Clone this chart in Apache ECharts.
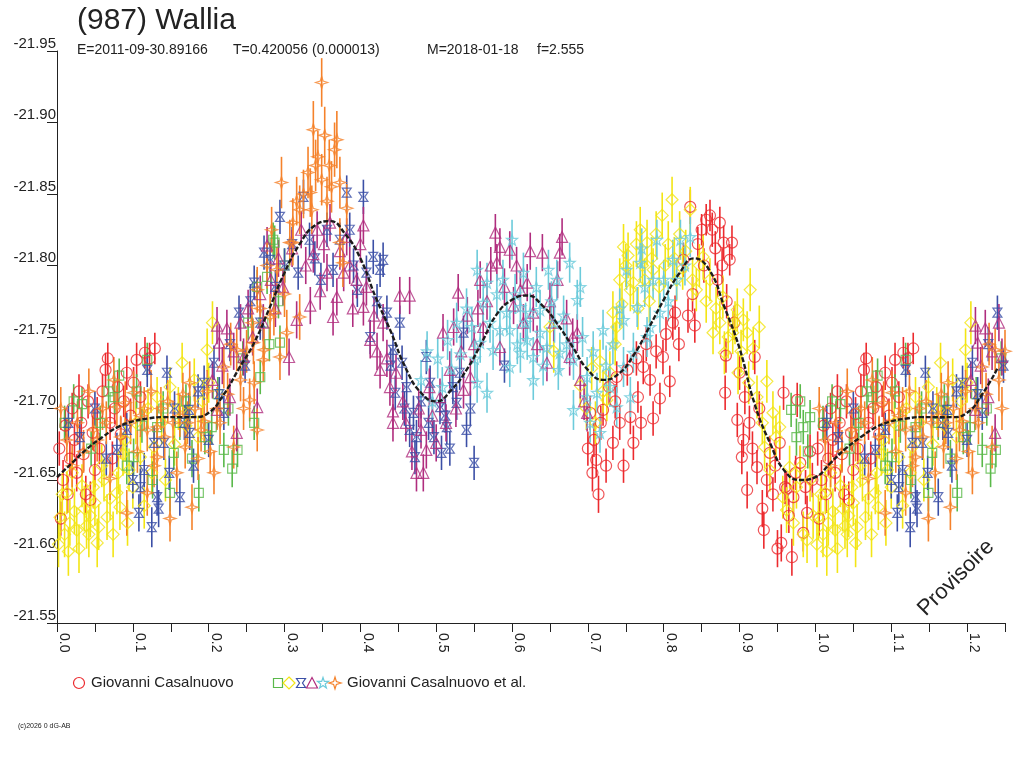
<!DOCTYPE html>
<html>
<head>
<meta charset="utf-8">
<title>(987) Wallia</title>
<script src="https://cdn.jsdelivr.net/npm/echarts/dist/echarts.min.js"></script>
<style>
html, body { margin: 0; padding: 0; background: #fff; }
#chart { width: 1024px; height: 768px; }
</style>
</head>
<body>
<div id="chart"></div>
<script>
// phase, magnitude (model curve, one period)
var modelCurve = [
    [0.00, -21.652], [0.02, -21.662], [0.04, -21.672], [0.06, -21.680], [0.08, -21.687],
    [0.10, -21.691], [0.12, -21.693], [0.14, -21.694], [0.16, -21.694], [0.18, -21.694],
    [0.20, -21.697], [0.22, -21.710], [0.24, -21.728], [0.26, -21.746], [0.28, -21.770],
    [0.30, -21.795], [0.32, -21.815], [0.34, -21.828], [0.36, -21.831], [0.38, -21.822],
    [0.40, -21.805], [0.42, -21.778], [0.44, -21.754], [0.46, -21.728], [0.48, -21.711],
    [0.50, -21.705], [0.52, -21.713], [0.54, -21.727], [0.56, -21.746], [0.58, -21.766],
    [0.60, -21.776], [0.62, -21.779], [0.64, -21.772], [0.66, -21.759], [0.68, -21.743],
    [0.70, -21.727], [0.72, -21.720], [0.74, -21.724], [0.76, -21.737], [0.78, -21.756],
    [0.80, -21.776], [0.82, -21.794], [0.84, -21.805], [0.86, -21.797], [0.88, -21.771],
    [0.90, -21.742], [0.92, -21.703], [0.94, -21.676], [0.96, -21.656], [0.98, -21.650],
    [1.00, -21.652]
];

// phase, magnitude, error — Giovanni Casalnuovo (red circles)
var obsRed = [
    [0.003,-21.672,0.012],[0.005,-21.623,0.012],[0.008,-21.650,0.014],[0.011,-21.688,0.012],[0.014,-21.640,0.013],
    [0.017,-21.665,0.012],[0.020,-21.700,0.011],[0.023,-21.678,0.012],[0.026,-21.655,0.013],[0.029,-21.712,0.012],
    [0.032,-21.690,0.011],[0.035,-21.668,0.012],[0.038,-21.640,0.013],[0.041,-21.705,0.012],[0.044,-21.636,0.013],
    [0.047,-21.683,0.012],[0.050,-21.657,0.012],[0.053,-21.696,0.012],[0.056,-21.672,0.011],[0.060,-21.712,0.012],
    [0.064,-21.727,0.012],[0.067,-21.735,0.011],[0.070,-21.690,0.012],[0.073,-21.665,0.012],[0.076,-21.700,0.011],
    [0.080,-21.715,0.012],[0.084,-21.682,0.012],[0.088,-21.705,0.011],[0.092,-21.725,0.012],[0.097,-21.695,0.012],
    [0.101,-21.718,0.011],[0.105,-21.734,0.012],[0.110,-21.708,0.011],[0.116,-21.739,0.011],[0.122,-21.735,0.011],
    [0.129,-21.742,0.011],
    [0.700,-21.672,0.012],[0.703,-21.697,0.012],[0.706,-21.655,0.013],[0.708,-21.678,0.012],[0.711,-21.664,0.012],
    [0.714,-21.640,0.013],[0.717,-21.690,0.012],[0.720,-21.699,0.011],[0.724,-21.660,0.012],[0.728,-21.715,0.012],
    [0.733,-21.676,0.012],[0.736,-21.705,0.012],[0.738,-21.722,0.011],[0.742,-21.690,0.012],[0.747,-21.660,0.012],
    [0.752,-21.727,0.011],[0.756,-21.694,0.012],[0.760,-21.676,0.012],[0.764,-21.735,0.012],[0.766,-21.708,0.011],
    [0.770,-21.690,0.012],[0.773,-21.729,0.012],[0.777,-21.745,0.012],[0.782,-21.720,0.011],[0.786,-21.693,0.012],
    [0.790,-21.740,0.012],[0.795,-21.707,0.011],[0.799,-21.736,0.012],[0.803,-21.752,0.012],[0.808,-21.719,0.011],
    [0.812,-21.760,0.012],[0.815,-21.767,0.012],[0.820,-21.745,0.012],[0.826,-21.804,0.012],[0.832,-21.765,0.012],
    [0.835,-21.841,0.012],[0.838,-21.780,0.012],[0.841,-21.758,0.012],
    [0.845,-21.815,0.012],[0.850,-21.825,0.011],[0.853,-21.800,0.012],[0.856,-21.832,0.011],[0.861,-21.835,0.011],
    [0.864,-21.825,0.012],[0.868,-21.812,0.012],[0.871,-21.790,0.012],[0.874,-21.830,0.011],[0.877,-21.800,0.012],
    [0.879,-21.816,0.012],[0.883,-21.775,0.012],[0.887,-21.804,0.011],[0.890,-21.816,0.012],[0.882,-21.737,0.012],
    [0.881,-21.711,0.012],[0.893,-21.760,0.012],[0.897,-21.692,0.012],[0.900,-21.725,0.012],[0.903,-21.666,0.012],
    [0.905,-21.678,0.012],[0.907,-21.708,0.012],[0.910,-21.643,0.013],[0.913,-21.690,0.012],[0.917,-21.672,0.012],
    [0.920,-21.736,0.012],[0.923,-21.659,0.012],[0.926,-21.700,0.012],[0.930,-21.630,0.013],[0.932,-21.615,0.013],
    [0.936,-21.650,0.012],[0.940,-21.669,0.012],[0.944,-21.640,0.012],[0.947,-21.660,0.012],[0.950,-21.602,0.013],
    [0.953,-21.676,0.012],[0.955,-21.606,0.013],[0.958,-21.711,0.012],[0.960,-21.645,0.012],[0.962,-21.644,0.012],
    [0.965,-21.625,0.012],[0.969,-21.596,0.013],[0.971,-21.638,0.012],[0.974,-21.655,0.012],[0.976,-21.706,0.012],
    [0.980,-21.662,0.012],[0.984,-21.613,0.013],[0.987,-21.645,0.012],[0.989,-21.627,0.012],[0.993,-21.670,0.012],
    [0.996,-21.650,0.012]
];

// Giovanni Casalnuovo et al. — yellow diamonds
var obsYellow = [
    [0.002,-21.605,0.016],[0.004,-21.624,0.016],[0.007,-21.640,0.015],[0.010,-21.612,0.016],[0.013,-21.641,0.015],
    [0.015,-21.600,0.017],[0.017,-21.620,0.016],[0.020,-21.655,0.015],[0.023,-21.628,0.016],[0.026,-21.615,0.016],
    [0.029,-21.602,0.017],[0.033,-21.646,0.015],[0.036,-21.630,0.016],[0.039,-21.618,0.016],[0.042,-21.612,0.016],
    [0.044,-21.625,0.015],[0.048,-21.645,0.015],[0.050,-21.634,0.016],[0.053,-21.606,0.017],[0.055,-21.617,0.016],
    [0.059,-21.660,0.015],[0.062,-21.650,0.015],[0.066,-21.624,0.016],[0.070,-21.637,0.015],[0.074,-21.612,0.016],
    [0.079,-21.641,0.015],[0.081,-21.655,0.015],[0.083,-21.631,0.016],[0.087,-21.668,0.015],[0.090,-21.678,0.015],
    [0.093,-21.620,0.016],[0.095,-21.657,0.015],[0.100,-21.645,0.015],[0.104,-21.690,0.015],[0.110,-21.666,0.015],
    [0.115,-21.632,0.016],[0.120,-21.700,0.014],[0.125,-21.655,0.015],[0.128,-21.673,0.015],[0.132,-21.708,0.014],
    [0.138,-21.690,0.015],[0.143,-21.650,0.015],[0.149,-21.715,0.014],[0.155,-21.675,0.015],[0.160,-21.700,0.015],
    [0.165,-21.732,0.014],[0.170,-21.688,0.015],[0.175,-21.697,0.015],[0.181,-21.720,0.015],[0.186,-21.680,0.015],
    [0.192,-21.705,0.015],[0.198,-21.741,0.015],[0.200,-21.718,0.014],[0.205,-21.760,0.015],
    [0.650,-21.757,0.014],[0.655,-21.740,0.015],[0.690,-21.716,0.015],[0.698,-21.700,0.015],[0.705,-21.728,0.015],
    [0.710,-21.690,0.015],[0.716,-21.733,0.015],[0.720,-21.712,0.015],[0.725,-21.706,0.015],[0.729,-21.725,0.015],
    [0.733,-21.767,0.015],[0.736,-21.745,0.015],[0.738,-21.757,0.015],[0.742,-21.790,0.015],[0.745,-21.773,0.015],
    [0.747,-21.813,0.016],[0.750,-21.800,0.015],[0.753,-21.807,0.016],[0.756,-21.783,0.015],[0.760,-21.788,0.015],
    [0.764,-21.815,0.016],[0.766,-21.770,0.015],[0.769,-21.825,0.016],[0.772,-21.800,0.015],[0.775,-21.790,0.015],
    [0.778,-21.816,0.016],[0.781,-21.775,0.015],[0.784,-21.805,0.015],[0.786,-21.797,0.015],[0.790,-21.822,0.016],
    [0.794,-21.785,0.015],[0.798,-21.835,0.016],[0.802,-21.800,0.015],[0.806,-21.815,0.016],[0.811,-21.846,0.016],
    [0.814,-21.805,0.015],[0.817,-21.790,0.015],[0.821,-21.822,0.016],[0.825,-21.798,0.015],[0.829,-21.810,0.015],
    [0.835,-21.839,0.016],[0.838,-21.790,0.015],[0.843,-21.783,0.015],[0.847,-21.800,0.015],[0.852,-21.806,0.016],
    [0.856,-21.775,0.015],[0.861,-21.790,0.015],[0.865,-21.753,0.015],[0.869,-21.770,0.015],[0.874,-21.760,0.015],
    [0.878,-21.778,0.015],[0.880,-21.739,0.015],[0.885,-21.750,0.015],[0.891,-21.753,0.015],[0.894,-21.760,0.015],
    [0.897,-21.769,0.015],[0.898,-21.725,0.015],[0.902,-21.740,0.015],[0.905,-21.762,0.015],[0.910,-21.753,0.015],
    [0.912,-21.718,0.015],[0.914,-21.783,0.015],[0.918,-21.742,0.015],[0.923,-21.708,0.015],[0.926,-21.757,0.015],
    [0.930,-21.690,0.015],[0.933,-21.673,0.015],[0.936,-21.719,0.015],[0.940,-21.657,0.015],[0.944,-21.697,0.015],
    [0.948,-21.680,0.015],[0.953,-21.687,0.015],[0.957,-21.638,0.015],[0.962,-21.629,0.016],[0.966,-21.659,0.015],
    [0.971,-21.620,0.016],[0.975,-21.645,0.015],[0.980,-21.659,0.015],[0.984,-21.612,0.016],[0.989,-21.608,0.016],
    [0.993,-21.650,0.015],[0.997,-21.625,0.016]
];

// green squares
var obsGreen = [
    [0.010,-21.690,0.012],[0.022,-21.705,0.012],[0.033,-21.703,0.012],[0.045,-21.672,0.012],[0.057,-21.690,0.012],
    [0.068,-21.712,0.012],[0.076,-21.708,0.012],[0.082,-21.723,0.012],[0.092,-21.660,0.013],[0.101,-21.666,0.013],
    [0.105,-21.712,0.012],[0.112,-21.688,0.012],[0.119,-21.734,0.012],[0.126,-21.650,0.013],[0.132,-21.687,0.012],
    [0.140,-21.700,0.012],[0.149,-21.641,0.013],[0.154,-21.669,0.012],[0.162,-21.690,0.012],[0.170,-21.705,0.012],
    [0.178,-21.665,0.013],[0.187,-21.641,0.013],[0.195,-21.680,0.012],[0.204,-21.687,0.012],[0.212,-21.710,0.012],
    [0.220,-21.671,0.012],[0.226,-21.700,0.012],[0.231,-21.658,0.013],[0.238,-21.671,0.012],[0.245,-21.735,0.012],
    [0.252,-21.760,0.012],[0.260,-21.690,0.012],[0.264,-21.785,0.012],[0.268,-21.722,0.012],[0.272,-21.760,0.012],
    [0.277,-21.792,0.012],[0.280,-21.745,0.012],[0.285,-21.818,0.012],[0.287,-21.816,0.012],[0.292,-21.775,0.012],
    [0.294,-21.746,0.012],[0.300,-21.800,0.012],
    [0.968,-21.699,0.012],[0.975,-21.680,0.013],[0.980,-21.705,0.012],[0.984,-21.687,0.012],[0.990,-21.670,0.012],
    [0.993,-21.694,0.012]
];

// blue bow-ties
var obsBlue = [
    [0.015,-21.690,0.012],[0.030,-21.680,0.012],[0.050,-21.700,0.012],[0.065,-21.665,0.012],[0.079,-21.671,0.012],
    [0.092,-21.685,0.012],[0.100,-21.650,0.013],[0.108,-21.627,0.013],[0.110,-21.645,0.013],[0.115,-21.657,0.012],
    [0.119,-21.727,0.012],[0.125,-21.617,0.014],[0.128,-21.676,0.012],[0.132,-21.638,0.013],[0.134,-21.630,0.013],
    [0.141,-21.676,0.012],[0.145,-21.725,0.012],[0.148,-21.655,0.012],[0.155,-21.700,0.012],[0.162,-21.638,0.013],
    [0.168,-21.690,0.012],[0.174,-21.699,0.012],[0.175,-21.683,0.012],[0.180,-21.660,0.012],[0.186,-21.712,0.012],
    [0.194,-21.718,0.012],[0.200,-21.678,0.012],[0.207,-21.732,0.012],[0.214,-21.710,0.012],[0.220,-21.697,0.012],
    [0.228,-21.745,0.012],[0.240,-21.767,0.012],[0.248,-21.730,0.012],[0.255,-21.775,0.012],[0.260,-21.788,0.012],
    [0.268,-21.760,0.012],[0.273,-21.809,0.012],[0.281,-21.804,0.012],[0.288,-21.785,0.012],[0.294,-21.834,0.012],
    [0.300,-21.800,0.012],[0.310,-21.815,0.012],[0.318,-21.795,0.012],[0.325,-21.848,0.012],[0.333,-21.818,0.012],
    [0.340,-21.805,0.012],[0.348,-21.790,0.012],[0.356,-21.825,0.012],[0.364,-21.797,0.012],[0.373,-21.818,0.012],
    [0.382,-21.851,0.012],[0.386,-21.825,0.012],[0.391,-21.800,0.012],[0.396,-21.783,0.012],[0.404,-21.848,0.012],
    [0.408,-21.795,0.012],[0.413,-21.750,0.012],[0.417,-21.806,0.012],[0.422,-21.775,0.012],[0.426,-21.797,0.012],
    [0.430,-21.804,0.012],[0.435,-21.767,0.012],[0.440,-21.730,0.012],[0.443,-21.741,0.012],[0.446,-21.711,0.012],
    [0.452,-21.760,0.012],[0.455,-21.732,0.012],[0.458,-21.700,0.012],[0.461,-21.715,0.012],[0.465,-21.685,0.012],
    [0.470,-21.697,0.012],[0.472,-21.666,0.012],[0.474,-21.680,0.012],[0.480,-21.705,0.012],[0.487,-21.736,0.012],
    [0.490,-21.690,0.012],[0.492,-21.718,0.012],[0.497,-21.680,0.012],[0.505,-21.701,0.012],[0.507,-21.669,0.012],
    [0.512,-21.695,0.012],[0.514,-21.687,0.012],[0.518,-21.672,0.012],[0.522,-21.715,0.012],[0.527,-21.704,0.012],
    [0.531,-21.725,0.012],[0.536,-21.753,0.012],[0.540,-21.685,0.012],[0.545,-21.700,0.012],[0.550,-21.662,0.012],
    [0.590,-21.730,0.012]
];

// magenta triangles
var obsMagenta = [
    [0.205,-21.720,0.013],[0.211,-21.758,0.013],[0.211,-21.699,0.013],[0.214,-21.746,0.013],[0.218,-21.730,0.013],
    [0.224,-21.756,0.013],[0.228,-21.708,0.013],[0.233,-21.740,0.013],[0.237,-21.683,0.013],[0.242,-21.760,0.013],
    [0.246,-21.736,0.013],[0.252,-21.770,0.013],[0.258,-21.750,0.013],[0.264,-21.701,0.013],[0.268,-21.780,0.013],
    [0.272,-21.760,0.013],[0.277,-21.814,0.013],[0.282,-21.790,0.013],[0.288,-21.770,0.013],[0.292,-21.805,0.013],
    [0.298,-21.785,0.013],[0.306,-21.736,0.013],[0.310,-21.812,0.013],[0.316,-21.762,0.013],[0.322,-21.825,0.013],
    [0.328,-21.800,0.013],[0.334,-21.772,0.013],[0.338,-21.808,0.013],[0.343,-21.825,0.013],[0.347,-21.782,0.013],
    [0.352,-21.815,0.013],[0.356,-21.795,0.013],[0.360,-21.830,0.013],[0.364,-21.764,0.013],[0.369,-21.778,0.013],
    [0.373,-21.810,0.013],[0.378,-21.795,0.013],[0.382,-21.820,0.013],[0.386,-21.800,0.013],[0.390,-21.770,0.013],
    [0.395,-21.790,0.013],[0.400,-21.815,0.013],[0.404,-21.828,0.013],[0.404,-21.771,0.013],[0.408,-21.785,0.013],
    [0.413,-21.748,0.013],[0.418,-21.765,0.013],[0.422,-21.740,0.013],[0.426,-21.727,0.013],[0.430,-21.760,0.013],
    [0.435,-21.735,0.013],[0.439,-21.715,0.013],[0.443,-21.690,0.013],[0.443,-21.698,0.013],[0.447,-21.725,0.013],
    [0.452,-21.779,0.013],[0.456,-21.705,0.013],[0.460,-21.690,0.013],[0.465,-21.779,0.013],[0.468,-21.670,0.013],
    [0.474,-21.655,0.013],[0.477,-21.700,0.013],[0.480,-21.685,0.013],[0.483,-21.655,0.013],[0.487,-21.671,0.013],
    [0.491,-21.715,0.013],[0.495,-21.695,0.013],[0.500,-21.676,0.013],[0.505,-21.708,0.013],[0.509,-21.753,0.013],
    [0.513,-21.690,0.013],[0.518,-21.727,0.013],[0.523,-21.757,0.013],[0.526,-21.700,0.013],[0.529,-21.781,0.013],
    [0.533,-21.740,0.013],[0.536,-21.713,0.013],[0.541,-21.765,0.013],[0.545,-21.722,0.013],[0.550,-21.745,0.013],
    [0.555,-21.770,0.013],[0.558,-21.790,0.013],[0.562,-21.757,0.013],[0.567,-21.775,0.013],[0.572,-21.800,0.013],
    [0.578,-21.823,0.013],[0.580,-21.802,0.013],[0.584,-21.813,0.013],[0.584,-21.743,0.013],[0.590,-21.785,0.013],
    [0.597,-21.811,0.013],[0.602,-21.772,0.013],[0.606,-21.800,0.013],[0.611,-21.783,0.013],[0.615,-21.760,0.013],
    [0.620,-21.788,0.013],[0.624,-21.810,0.013],[0.628,-21.767,0.013],[0.633,-21.745,0.013],[0.640,-21.809,0.013],
    [0.646,-21.732,0.013],[0.650,-21.775,0.013],[0.655,-21.760,0.013],[0.660,-21.790,0.013],[0.663,-21.809,0.013],
    [0.666,-21.820,0.013],[0.672,-21.763,0.013],[0.676,-21.736,0.013],[0.680,-21.750,0.013],[0.686,-21.753,0.013],
    [0.690,-21.720,0.013],[0.695,-21.705,0.013],[0.699,-21.697,0.013]
];

// cyan stars
var obsCyan = [
    [0.480,-21.720,0.014],[0.488,-21.740,0.014],[0.495,-21.705,0.014],[0.502,-21.735,0.014],[0.508,-21.715,0.014],
    [0.515,-21.748,0.014],[0.520,-21.728,0.014],[0.527,-21.760,0.014],[0.532,-21.738,0.014],[0.540,-21.770,0.014],
    [0.547,-21.757,0.014],[0.551,-21.735,0.014],[0.554,-21.797,0.014],[0.554,-21.718,0.014],[0.558,-21.746,0.014],
    [0.562,-21.774,0.014],[0.567,-21.788,0.014],[0.567,-21.711,0.014],[0.571,-21.760,0.014],[0.575,-21.741,0.014],
    [0.580,-21.780,0.014],[0.584,-21.755,0.014],[0.588,-21.790,0.014],[0.593,-21.767,0.014],[0.597,-21.755,0.014],
    [0.597,-21.729,0.014],[0.600,-21.818,0.014],[0.604,-21.780,0.014],[0.607,-21.745,0.014],[0.611,-21.771,0.014],
    [0.611,-21.739,0.014],[0.615,-21.795,0.014],[0.618,-21.760,0.014],[0.620,-21.748,0.014],[0.624,-21.767,0.014],
    [0.628,-21.736,0.014],[0.628,-21.720,0.014],[0.632,-21.785,0.014],[0.637,-21.769,0.014],[0.637,-21.753,0.014],
    [0.641,-21.730,0.014],[0.646,-21.743,0.014],[0.648,-21.797,0.014],[0.652,-21.775,0.014],[0.656,-21.760,0.014],
    [0.659,-21.790,0.014],[0.661,-21.727,0.014],[0.663,-21.739,0.014],[0.668,-21.765,0.014],[0.672,-21.745,0.014],
    [0.676,-21.802,0.014],[0.681,-21.734,0.014],[0.681,-21.699,0.014],[0.686,-21.776,0.014],[0.690,-21.785,0.014],
    [0.693,-21.750,0.014],[0.699,-21.722,0.014],[0.699,-21.708,0.014],[0.703,-21.690,0.014],[0.707,-21.740,0.014],
    [0.712,-21.711,0.014],[0.716,-21.683,0.014],[0.720,-21.755,0.014],[0.724,-21.730,0.014],[0.729,-21.715,0.014],
    [0.733,-21.745,0.014],[0.738,-21.701,0.014],[0.742,-21.770,0.014],[0.747,-21.762,0.014],[0.747,-21.729,0.014],
    [0.751,-21.797,0.014],[0.756,-21.708,0.014],[0.760,-21.739,0.014],[0.765,-21.771,0.014],[0.769,-21.802,0.014],
    [0.771,-21.812,0.014],[0.775,-21.785,0.014],[0.778,-21.750,0.014],[0.782,-21.757,0.014],[0.786,-21.790,0.014],
    [0.791,-21.818,0.014],[0.795,-21.767,0.014],[0.800,-21.790,0.014],[0.806,-21.775,0.014],[0.812,-21.804,0.014],
    [0.817,-21.790,0.014],[0.822,-21.818,0.014],[0.828,-21.800,0.014],[0.835,-21.820,0.014]
];

// orange four-point stars
var obsOrange = [
    [0.005,-21.700,0.015],[0.013,-21.678,0.015],[0.020,-21.660,0.015],[0.027,-21.690,0.015],[0.035,-21.670,0.015],
    [0.042,-21.712,0.016],[0.048,-21.685,0.015],[0.053,-21.678,0.015],[0.060,-21.700,0.015],[0.065,-21.690,0.015],
    [0.070,-21.651,0.015],[0.075,-21.720,0.016],[0.079,-21.701,0.015],[0.084,-21.680,0.015],[0.090,-21.704,0.015],
    [0.092,-21.627,0.016],[0.097,-21.690,0.015],[0.101,-21.711,0.015],[0.106,-21.670,0.015],[0.110,-21.695,0.015],
    [0.115,-21.700,0.015],[0.119,-21.641,0.016],[0.119,-21.685,0.015],[0.124,-21.712,0.015],[0.128,-21.660,0.015],
    [0.132,-21.687,0.015],[0.132,-21.666,0.015],[0.137,-21.700,0.015],[0.142,-21.680,0.015],[0.146,-21.705,0.015],
    [0.149,-21.623,0.016],[0.153,-21.690,0.015],[0.158,-21.655,0.015],[0.162,-21.695,0.015],[0.166,-21.710,0.015],
    [0.169,-21.673,0.015],[0.172,-21.690,0.015],[0.175,-21.718,0.015],[0.178,-21.631,0.016],[0.182,-21.700,0.015],
    [0.186,-21.665,0.015],[0.190,-21.685,0.015],[0.194,-21.691,0.015],[0.198,-21.712,0.015],[0.202,-21.670,0.015],
    [0.207,-21.655,0.015],[0.211,-21.700,0.015],[0.215,-21.690,0.015],[0.220,-21.729,0.015],[0.225,-21.710,0.015],
    [0.229,-21.745,0.015],[0.233,-21.673,0.015],[0.237,-21.741,0.015],[0.242,-21.720,0.015],[0.246,-21.700,0.015],
    [0.250,-21.740,0.015],[0.254,-21.706,0.015],[0.257,-21.760,0.015],[0.259,-21.746,0.015],[0.260,-21.718,0.015],
    [0.264,-21.685,0.015],[0.264,-21.783,0.016],[0.268,-21.770,0.016],[0.272,-21.734,0.015],[0.273,-21.741,0.015],
    [0.277,-21.800,0.016],[0.281,-21.764,0.016],[0.283,-21.825,0.016],[0.286,-21.767,0.016],[0.290,-21.797,0.016],
    [0.294,-21.736,0.016],[0.296,-21.858,0.018],[0.300,-21.780,0.016],[0.303,-21.753,0.016],[0.307,-21.816,0.016],
    [0.311,-21.830,0.017],[0.311,-21.816,0.016],[0.316,-21.845,0.017],[0.320,-21.839,0.017],[0.320,-21.764,0.016],
    [0.325,-21.850,0.017],[0.331,-21.865,0.018],[0.334,-21.851,0.017],[0.336,-21.839,0.017],[0.338,-21.895,0.020],
    [0.341,-21.870,0.018],[0.344,-21.876,0.018],[0.349,-21.928,0.017],[0.349,-21.860,0.018],[0.353,-21.891,0.020],
    [0.356,-21.845,0.017],[0.359,-21.870,0.018],[0.362,-21.855,0.018],[0.366,-21.881,0.019],[0.369,-21.888,0.020],
    [0.373,-21.858,0.018],[0.373,-21.816,0.017],[0.377,-21.802,0.017],[0.382,-21.840,0.017]
];

var xTicks = [0.0, 0.1, 0.2, 0.3, 0.4, 0.5, 0.6, 0.7, 0.8, 0.9, 1.0, 1.1, 1.2];
var yTicks = [-21.95, -21.90, -21.85, -21.80, -21.75, -21.70, -21.65, -21.60, -21.55];

// the plot shows phases 0 .. 1.25, so the first quarter period is drawn again after 1.0
function wrap(pts) {
    var out = pts.slice();
    pts.forEach(function (p) {
        if (p[0] <= 0.25) {
            var q = p.slice();
            q[0] = p[0] + 1;
            out.push(q);
        }
    });
    return out;
}

var FONT = 'Liberation Sans, Arial, sans-serif';
var INK = '#222222';

var sets = [
    {name: 'red', pts: obsRed, color: '#ec2a2e', symbol: 'circle', size: 11},
    {name: 'yellow', pts: obsYellow, color: '#f3e514', symbol: 'diamond', size: 12},
    {name: 'model'},
    {name: 'green', pts: obsGreen, color: '#5ab94a', symbol: 'rect', size: 9},
    {name: 'blue', pts: obsBlue, color: '#3b4fa6', symbol: 'path://M0,0L10,0L6.5,5L10,10L0,10L3.5,5Z', size: 9},
    {name: 'magenta', pts: obsMagenta, color: '#b02d7e', symbol: 'triangle', size: 11},
    {name: 'cyan', pts: obsCyan, color: '#6ccbdb', symbol: 'path://M5,0L6.2,3.6L10,3.6L7,5.9L8.1,9.5L5,7.3L1.9,9.5L3,5.9L0,3.6L3.8,3.6Z', size: 11},
    {name: 'orange', pts: obsOrange, color: '#f5822b', symbol: 'path://M5,0L6.2,3.8L10,5L6.2,6.2L5,10L3.8,6.2L0,5L3.8,3.8Z', size: 12}
];

var series = [];
sets.forEach(function (s) {
    if (s.name === 'model') {
        series.push({
            type: 'line',
            data: wrap(modelCurve),
            smooth: true,
            showSymbol: false,
            silent: true,
            lineStyle: {color: '#1c1c1c', width: 2.4, type: [5, 2]}
        });
        return;
    }
    var data = wrap(s.pts);
    // error bars
    series.push({
        type: 'custom',
        silent: true,
        data: data,
        encode: {x: 0, y: 1},
        renderItem: function (params, api) {
            var p = api.value(0), m = api.value(1), e = api.value(2);
            var a = api.coord([p, m - e]);
            var b = api.coord([p, m + e]);
            return {
                type: 'line',
                shape: {x1: a[0], y1: a[1], x2: b[0], y2: b[1]},
                style: {stroke: s.color, lineWidth: 1.6}
            };
        }
    });
    // symbols
    series.push({
        type: 'scatter',
        silent: true,
        data: data,
        symbol: s.symbol,
        symbolSize: s.size,
        itemStyle: {color: 'rgba(0,0,0,0)', borderColor: s.color, borderWidth: 1.2}
    });
});

function legendShape(type, cx, cy, color) {
    var st = {fill: null, stroke: color, lineWidth: 1.2};
    if (type === 'circle') return {type: 'circle', shape: {cx: cx, cy: cy, r: 5.5}, style: st};
    if (type === 'rect') return {type: 'rect', shape: {x: cx - 4.5, y: cy - 4.5, width: 9, height: 9}, style: st};
    var pts;
    if (type === 'diamond') pts = [[0, -6], [6, 0], [0, 6], [-6, 0]];
    if (type === 'bow') pts = [[-4.5, -4.5], [4.5, -4.5], [1.5, 0], [4.5, 4.5], [-4.5, 4.5], [-1.5, 0]];
    if (type === 'triangle') pts = [[0, -5.5], [5.5, 5], [-5.5, 5]];
    if (type === 'star') pts = [[0, -5.5], [1.3, -1.6], [5.5, -1.6], [2.2, 0.9], [3.4, 5], [0, 2.5], [-3.4, 5], [-2.2, 0.9], [-5.5, -1.6], [-1.3, -1.6]];
    if (type === 'star4') pts = [[0, -6], [1.4, -1.4], [6, 0], [1.4, 1.4], [0, 6], [-1.4, 1.4], [-6, 0], [-1.4, -1.4]];
    return {type: 'polygon', shape: {points: pts.map(function (p) { return [cx + p[0], cy + p[1]]; })}, style: st};
}

var myChart = echarts.init(document.getElementById('chart'));
var option = {
    backgroundColor: '#ffffff',
    animation: false,
    grid: {left: 57, top: 51, right: 19, bottom: 145},
    xAxis: {
        type: 'value',
        min: 0,
        max: 1.25,
        interval: 0.05,
        axisLine: {lineStyle: {color: INK, width: 1}},
        axisTick: {length: 9, lineStyle: {color: INK}},
        splitLine: {show: false},
        axisLabel: {
            rotate: -90,
            margin: 10,
            verticalAlign: 'bottom',
            color: INK,
            fontFamily: FONT,
            fontSize: 14,
            formatter: function (v) {
                var k = Math.round(v * 100);
                if (k % 10 !== 0) return '';
                var t = k / 100;
                return xTicks.indexOf(t) >= 0 ? t.toFixed(1) : '';
            }
        }
    },
    yAxis: {
        type: 'value',
        inverse: true,
        min: -21.95,
        max: -21.55,
        interval: 0.05,
        axisLine: {show: true, lineStyle: {color: INK, width: 1}},
        axisTick: {show: true, length: 10, lineStyle: {color: INK}},
        splitLine: {show: false},
        axisLabel: {
            margin: 1,
            verticalAlign: 'bottom',
            color: INK,
            fontFamily: FONT,
            fontSize: 15,
            formatter: function (v) {
                var r = Math.round(v * 100) / 100;
                return yTicks.indexOf(r) >= 0 ? r.toFixed(2) : '';
            }
        }
    },
    graphic: [
        {type: 'text', left: 77, top: 6, style: {text: '(987) Wallia', font: '30px ' + FONT, fill: INK}},
        {type: 'text', x: 77, y: 50, style: {text: 'E=2011-09-30.89166', font: '14px ' + FONT, fill: INK, verticalAlign: 'middle'}},
        {type: 'text', x: 233, y: 50, style: {text: 'T=0.420056 (0.000013)', font: '14px ' + FONT, fill: INK, verticalAlign: 'middle'}},
        {type: 'text', x: 427, y: 50, style: {text: 'M=2018-01-18', font: '14px ' + FONT, fill: INK, verticalAlign: 'middle'}},
        {type: 'text', x: 537, y: 50, style: {text: 'f=2.555', font: '14px ' + FONT, fill: INK, verticalAlign: 'middle'}},
        {type: 'text', x: 956, y: 578, rotation: Math.PI / 4,
            style: {text: 'Provisoire', font: '22px ' + FONT, fill: INK, align: 'center', verticalAlign: 'middle'}},
        legendShape('circle', 79, 683, '#ec2a2e'),
        {type: 'text', x: 91, y: 683, style: {text: 'Giovanni Casalnuovo', font: '15px ' + FONT, fill: INK, verticalAlign: 'middle'}},
        legendShape('rect', 278, 683, '#5ab94a'),
        legendShape('diamond', 289, 683, '#f3e514'),
        legendShape('bow', 301, 683, '#3b4fa6'),
        legendShape('triangle', 312, 683, '#b02d7e'),
        legendShape('star', 323, 683, '#6ccbdb'),
        legendShape('star4', 335, 683, '#f5822b'),
        {type: 'text', x: 347, y: 683, style: {text: 'Giovanni Casalnuovo et al.', font: '15px ' + FONT, fill: INK, verticalAlign: 'middle'}},
        {type: 'text', x: 18, y: 726, style: {text: '(c)2026 0 dG-AB', font: '7px ' + FONT, fill: INK, verticalAlign: 'middle'}}
    ],
    series: series
};
if (option && typeof option === 'object') {
    myChart.setOption(option, true);
}
</script>
</body>
</html>
